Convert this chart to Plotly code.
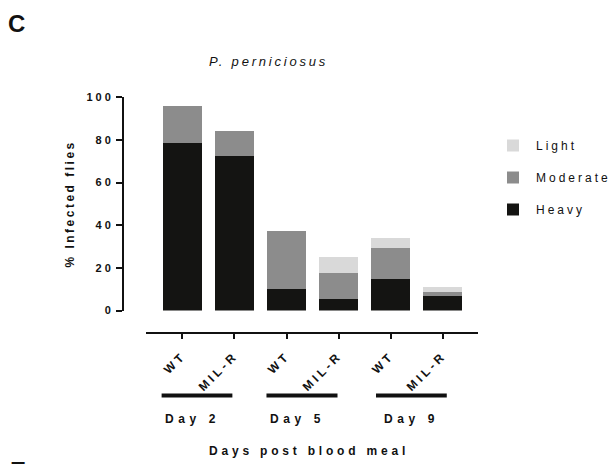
import plotly.graph_objects as go

# ---- data ----
strains = ["WT", "MIL-R", "WT", "MIL-R", "WT", "MIL-R"]
days = ["Day 2", "Day 5", "Day 9"]
heavy = [78.8, 72.4, 10.3, 5.6, 15.0, 6.7]
moderate = [17.2, 11.9, 26.8, 12.1, 14.1, 2.2]
light = [0.0, 0.0, 0.0, 7.2, 4.9, 2.1]
y_ticks = [0, 20, 40, 60, 80, 100]

W, H = 614, 464
def px(x):
    return x / W
def py(y):
    return (H - y) / H

def sp(t, s):
    return f'<span style="letter-spacing:{s}px">{t}</span>'

FONT = "Liberation Sans, Arial, Helvetica, sans-serif"
xpos = list(range(len(strains)))

fig = go.Figure()
fig.add_trace(go.Bar(x=xpos, y=heavy, name=sp("Heavy", 3), legendgroup="h", legendrank=3,
                     marker=dict(color="#141412", line=dict(width=0))))
fig.add_trace(go.Bar(x=xpos, y=moderate, name=sp("Moderate", 3), legendgroup="m", legendrank=2,
                     marker=dict(color="#8c8c8c", line=dict(width=0))))
fig.add_trace(go.Bar(x=xpos, y=light, name=sp("Light", 3), legendgroup="l", legendrank=1,
                     marker=dict(color="#d9d9d9", line=dict(width=0))))

fig.update_layout(
    template="none",
    width=W, height=H,
    margin=dict(l=0, r=0, t=0, b=0, autoexpand=False),
    paper_bgcolor="white", plot_bgcolor="white",
    barmode="stack", bargap=0.26,
    font=dict(family=FONT, color="#111"),
    showlegend=True,
    legend=dict(x=px(490), y=py(131), xanchor="left", yanchor="top",
                traceorder="grouped", font=dict(size=12, family=FONT),
                itemwidth=36, tracegroupgap=13, bgcolor="rgba(0,0,0,0)"),
    xaxis=dict(domain=[px(146), px(478)], range=[-0.7, 5.68],
               anchor="free", position=py(333), automargin=False,
               tickmode="array", tickvals=xpos, ticktext=[sp(s, 3.3) for s in strains],
               tickangle=-45, ticks="outside", ticklen=5, tickwidth=2, tickcolor="#111",
               ticklabelstandoff=5,
               showline=True, linewidth=2, linecolor="#111",
               showgrid=False, zeroline=False,
               tickfont=dict(size=12, family=FONT, weight="bold")),
    yaxis=dict(domain=[py(310.5), py(97.3)], range=[0, 100],
               anchor="free", position=px(123), automargin=False,
               tickmode="array", tickvals=y_ticks, ticktext=[sp(str(v), 3) for v in y_ticks],
               ticks="outside", ticklen=6, tickwidth=2, tickcolor="#111",
               showline=True, linewidth=2, linecolor="#111",
               showgrid=False, zeroline=False,
               tickfont=dict(size=11, family=FONT, weight="bold"),
               title=dict(text=sp("% Infected flies", 2.5), standoff=8,
                          font=dict(size=12, family=FONT, weight="bold"))),
)

# group bars and day labels
group_spans = [(-0.40, 0.96), (1.615, 2.98), (3.72, 5.08)]
label_pos = [0.2, 2.22, 4.4]
for (x0, x1), lx, d in zip(group_spans, label_pos, days):
    fig.add_shape(type="line", xref="x", yref="paper", x0=x0, x1=x1,
                  y0=py(395.5), y1=py(395.5), line=dict(color="#111", width=4))
    fig.add_annotation(xref="x", yref="paper", x=lx, y=py(419), text=sp(d, 4.6),
                       showarrow=False, xanchor="center", yanchor="middle",
                       font=dict(size=12, family=FONT, weight="bold"))

fig.add_annotation(xref="paper", yref="paper", x=px(309), y=py(451),
                   text=sp("Days post blood meal", 3.8), showarrow=False,
                   xanchor="center", yanchor="middle",
                   font=dict(size=12, family=FONT, weight="bold"))
fig.add_annotation(xref="paper", yref="paper", x=px(268), y=py(61),
                   text=sp("P. perniciosus", 2.8), showarrow=False,
                   xanchor="center", yanchor="middle",
                   font=dict(size=13, family=FONT, style="italic"))
fig.add_annotation(xref="paper", yref="paper", x=px(6), y=py(24),
                   text="C", showarrow=False, xanchor="left", yanchor="middle",
                   font=dict(size=24, family=FONT, weight="bold"))
fig.add_annotation(xref="paper", yref="paper", x=px(8), y=py(455),
                   text="E", showarrow=False, xanchor="left", yanchor="top",
                   font=dict(size=24, family=FONT, weight="bold"))

fig.write_html("out.html", config={"displayModeBar": False},
               post_script="document.body.style.margin='0';")
